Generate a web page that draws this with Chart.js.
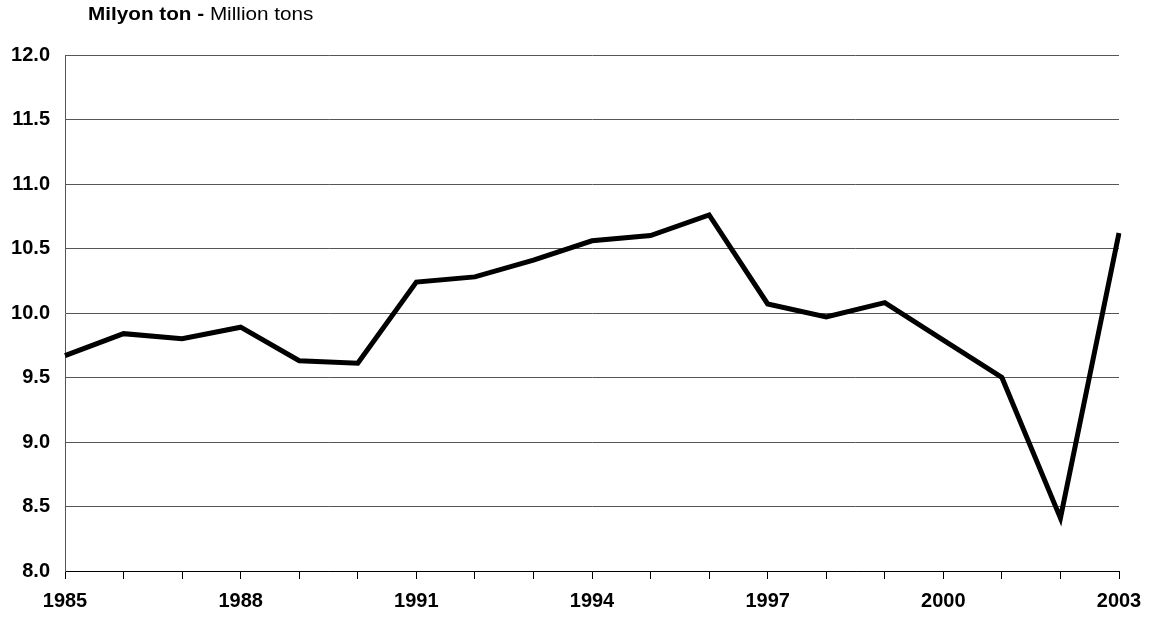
<!DOCTYPE html>
<html><head><meta charset="utf-8">
<script src="https://cdn.jsdelivr.net/npm/chart.js@4/dist/chart.umd.min.js"></script>
<style>html,body{margin:0;padding:0;background:#fff}#wrap{width:1153px;height:620px;position:relative}</style>
</head><body><div id="wrap"><canvas id="c" width="1153" height="620"></canvas></div>
<script>
const years = ['1985','1986','1987','1988','1989','1990','1991','1992','1993','1994','1995','1996','1997','1998','1999','2000','2001','2002','2003'];
const production = [9.67,9.84,9.80,9.89,9.63,9.61,10.24,10.28,10.41,10.56,10.60,10.76,10.07,9.97,10.08,9.79,9.50,8.41,10.62];
const shownYears = ['1985','1988','1991','1994','1997','2000','2003'];
const titleBold = 'Milyon ton - ';
const titleNormal = 'Million tons';

const titlePlugin = {
  id: 'mixedTitle',
  afterDraw(chart) {
    const ctx = chart.ctx;
    ctx.save();
    ctx.fillStyle = '#000';
    ctx.textBaseline = 'alphabetic';
    ctx.translate(88, 20);
    ctx.scale(1.15, 1);
    ctx.font = 'bold 18px "Liberation Sans", Arial, sans-serif';
    ctx.fillText(titleBold, 0, 0);
    const w = ctx.measureText(titleBold).width;
    ctx.font = '18px "Liberation Sans", Arial, sans-serif';
    ctx.fillText(titleNormal, w, 0);
    ctx.restore();
  }
};

new Chart(document.getElementById('c'), {
  type: 'line',
  data: { labels: years, datasets: [{ data: production, borderColor: '#000', borderWidth: 5, pointRadius: 0, tension: 0, fill: false, borderJoinStyle: 'miter' }] },
  options: {
    responsive: false, animation: false,
    layout: { padding: { top: 55, right: 34, left: 0, bottom: 0 } },
    plugins: { legend: { display: false }, tooltip: { enabled: false }, title: { display: false } },
    scales: {
      x: {
        offset: false,
        grid: { drawOnChartArea: false, drawTicks: true, tickLength: 8, color: '#000', tickColor: '#000' },
        border: { color: '#000', width: 1 },
        ticks: { autoSkip: false, maxRotation: 0, padding: 10, color: '#000',
          font: { family: '"Liberation Sans", Arial, sans-serif', size: 20, weight: 'bold' },
          callback: function(v, i) { const l = years[i]; return shownYears.includes(l) ? l : ''; } },
        afterFit: s => { s.height = 49; }
      },
      y: {
        min: 8, max: 12,
        grid: { color: '#555', lineWidth: 1, drawTicks: false },
        border: { color: '#555', width: 1 },
        ticks: { stepSize: 0.5, padding: 15, color: '#000',
          font: { family: '"Liberation Sans", Arial, sans-serif', size: 20, weight: 'bold' },
          callback: v => Number(v).toFixed(1) },
        afterFit: s => { s.width = 65; }
      }
    }
  },
  plugins: [titlePlugin]
});
</script></body></html>
